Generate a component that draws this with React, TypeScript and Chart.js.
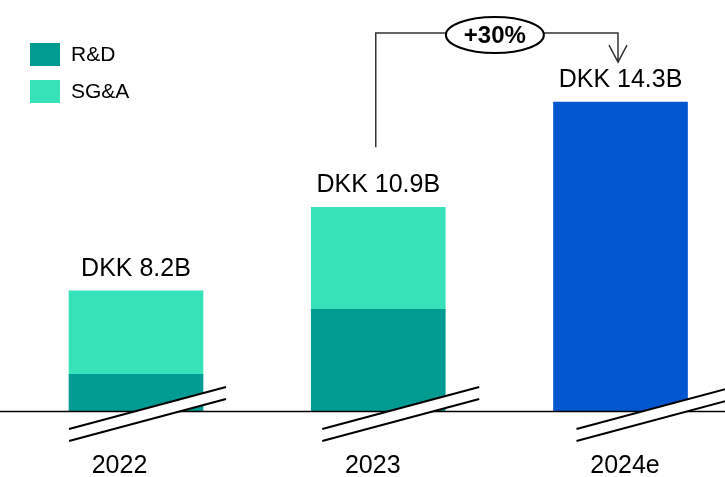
import { useEffect, useRef } from "react";
import { Chart, registerables } from "chart.js";

Chart.register(...registerables);

// ---- data (DKK billions) ----
const CATEGORIES = ["2022", "2023", "2024e"];
const RND = [5.5, 7.6, null];
const SGA = [2.7, 3.3, null];
const ESTIMATE = [null, null, 14.3];
const SERIES_LABELS = ["R&D", "SG&A", "Total (estimate)"];
const GROWTH_LABEL = "+30%";
// broken value axis: bars are cut at the axis break
const Y_MIN = 4.3;
const Y_MAX = 17.6;

const COLORS = ["#009C92", "#37E2B8", "#0057D0"];
const FONT = "'Liberation Sans', Arial, Helvetica, sans-serif";

const overlayPlugin = {
  id: "overlay",
  afterDatasetsDraw(chart: any) {
    const { ctx, chartArea } = chart;
    const xScale = chart.scales.x;
    const B = chartArea.bottom;
    ctx.save();

    // baseline
    ctx.strokeStyle = "#000";
    ctx.lineWidth = 1.6;
    ctx.beginPath();
    ctx.moveTo(0, B);
    ctx.lineTo(chart.width, B);
    ctx.stroke();

    // axis breaks
    const breakDx = [-67, -56, -44];
    CATEGORIES.forEach((_, i) => {
      const cx = xScale.getPixelForValue(i);
      const x0 = cx + breakDx[i];
      const x1 = x0 + 157;
      ctx.fillStyle = "#fff";
      ctx.beginPath();
      ctx.moveTo(x0, B + 17.5);
      ctx.lineTo(x1, B - 24.5);
      ctx.lineTo(x1, B - 12.5);
      ctx.lineTo(x0, B + 29.5);
      ctx.closePath();
      ctx.fill();
      ctx.strokeStyle = "#000";
      ctx.lineWidth = 2;
      ctx.beginPath();
      ctx.moveTo(x0, B + 17.5);
      ctx.lineTo(x1, B - 24.5);
      ctx.moveTo(x0, B + 29.5);
      ctx.lineTo(x1, B - 12.5);
      ctx.stroke();
    });

    // category labels (placed slightly off the bar centres, as in the source)
    const labelDx = [-16.5, -5.5, 4.5];
    ctx.fillStyle = "#000";
    ctx.font = `25px ${FONT}`;
    ctx.textAlign = "center";
    ctx.textBaseline = "alphabetic";
    CATEGORIES.forEach((_, i) => {
      const cx = xScale.getPixelForValue(i);
      ctx.fillText(String(xScale.getLabelForValue(i)), cx + labelDx[i], B + 61.5);
    });

    // total labels above bars
    const tops: number[] = [];
    CATEGORIES.forEach((_, i) => {
      let top = Infinity;
      let total = 0;
      chart.data.datasets.forEach((ds: any, d: number) => {
        const v = ds.data[i];
        if (v == null) return;
        total += v;
        const el = chart.getDatasetMeta(d).data[i];
        if (el && el.y < top) top = el.y;
      });
      tops.push(top);
      const cx = xScale.getPixelForValue(i);
      ctx.fillStyle = "#000";
      ctx.font = `25px ${FONT}`;
      ctx.textAlign = "center";
      ctx.textBaseline = "alphabetic";
      ctx.fillText(`DKK ${total.toFixed(1)}B`, cx, top - 15);
    });

    // legend
    ctx.font = `21px ${FONT}`;
    ctx.textAlign = "left";
    ctx.textBaseline = "middle";
    [0, 1].forEach((d, k) => {
      const ds = chart.data.datasets[d];
      const y = 43 + k * 37;
      ctx.fillStyle = ds.backgroundColor;
      ctx.fillRect(30, y, 30, 23);
      ctx.fillStyle = "#000";
      ctx.fillText(ds.label, 71, y + 12.5);
    });

    // growth bracket
    const xa = xScale.getPixelForValue(1) - 2.5;
    const xb = xScale.getPixelForValue(2) - 2.5;
    const yTop = 33;
    const yLeftEnd = tops[1] - 60;
    const yTip = tops[2] - 40;
    const ex = (xa + xb) / 2 - 2;
    const ey = 35;
    const rx = 49;
    const ry = 18;
    ctx.strokeStyle = "#333";
    ctx.lineWidth = 1.5;
    ctx.beginPath();
    ctx.moveTo(xa, yLeftEnd);
    ctx.lineTo(xa, yTop);
    ctx.lineTo(ex - rx, yTop);
    ctx.moveTo(ex + rx, yTop);
    ctx.lineTo(xb, yTop);
    ctx.lineTo(xb, yTip);
    ctx.moveTo(xb - 9, yTip - 17);
    ctx.lineTo(xb, yTip);
    ctx.lineTo(xb + 9, yTip - 17);
    ctx.stroke();

    ctx.beginPath();
    ctx.ellipse(ex, ey, rx, ry, 0, 0, Math.PI * 2);
    ctx.fillStyle = "#fff";
    ctx.fill();
    ctx.strokeStyle = "#000";
    ctx.lineWidth = 2;
    ctx.stroke();
    ctx.fillStyle = "#000";
    ctx.font = `bold 24px ${FONT}`;
    ctx.textAlign = "center";
    ctx.textBaseline = "middle";
    ctx.fillText(GROWTH_LABEL, ex, ey + 1.5);

    ctx.restore();
  },
};

export default function App() {
  const ref = useRef<HTMLCanvasElement | null>(null);

  useEffect(() => {
    if (!ref.current) return;
    const clip = { left: false, right: false, top: 0, bottom: 0 };
    const chart = new Chart(ref.current, {
      type: "bar",
      data: {
        labels: CATEGORIES,
        datasets: [
          { label: SERIES_LABELS[0], data: RND, backgroundColor: COLORS[0], clip } as any,
          { label: SERIES_LABELS[1], data: SGA, backgroundColor: COLORS[1], clip } as any,
          { label: SERIES_LABELS[2], data: ESTIMATE, backgroundColor: COLORS[2], clip } as any,
        ],
      },
      options: {
        responsive: false,
        animation: false,
        devicePixelRatio: 1,
        layout: { padding: { left: 136, right: 104.5, top: 0, bottom: 0 } },
        datasets: { bar: { barThickness: 134, borderWidth: 0 } },
        plugins: { legend: { display: false }, tooltip: { enabled: false } },
        scales: {
          x: {
            stacked: true,
            offset: false,
            grid: { display: false, drawTicks: false },
            border: { display: false },
            ticks: { display: false },
            afterFit: (scale: any) => {
              scale.height = 65.5;
            },
          },
          y: {
            stacked: true,
            display: false,
            min: Y_MIN,
            max: Y_MAX,
          },
        },
      } as any,
      plugins: [overlayPlugin],
    });
    return () => chart.destroy();
  }, []);

  return (
    <div style={{ position: "fixed", left: 0, top: 0, width: 725, height: 477, background: "#fff" }}>
      <canvas ref={ref} width={725} height={477} style={{ display: "block" }} />
    </div>
  );
}
